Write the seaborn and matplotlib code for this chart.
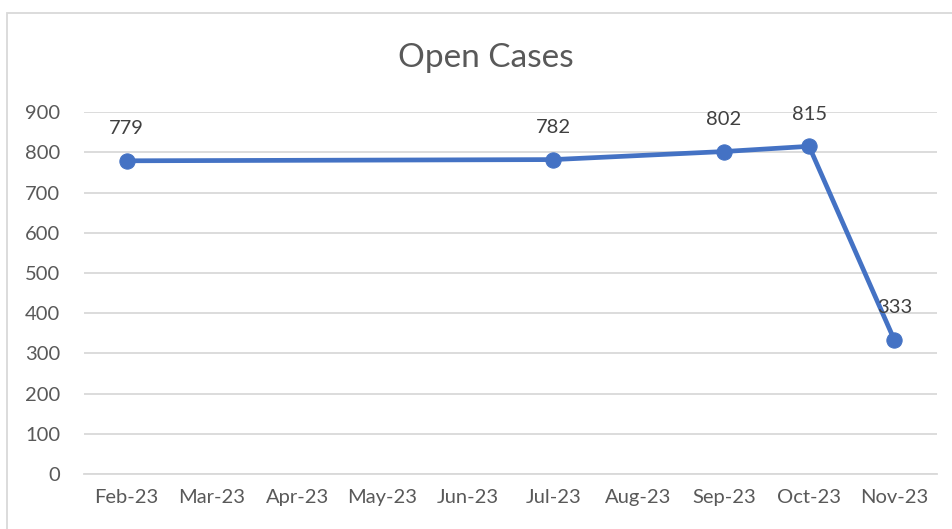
import numpy as np
import pandas as pd
import seaborn as sns
import matplotlib.pyplot as plt
from matplotlib.patches import Rectangle

months = ['Feb-23', 'Mar-23', 'Apr-23', 'May-23', 'Jun-23',
          'Jul-23', 'Aug-23', 'Sep-23', 'Oct-23', 'Nov-23']
case_months = ['Feb-23', 'Jul-23', 'Sep-23', 'Oct-23', 'Nov-23']
open_cases = [779, 782, 802, 815, 333]

df = pd.DataFrame({'month': case_months, 'cases': open_cases})
df['pos'] = [months.index(m) for m in df['month']]

sns.set_theme(style='white')
plt.rcParams['font.family'] = ['Lato', 'DejaVu Sans']

text_col = '#595959'
grid_col = '#D9D9D9'
line_col = '#4472C4'

fig = plt.figure(figsize=(9.52, 5.29), dpi=100)
ax = fig.add_axes([0.0882, 0.104, 0.8961, 0.684])

# chart frame like excel
fig.patches.append(Rectangle((7 / 952, -0.1), 1.1, (529 - 13) / 529 + 0.1,
                             transform=fig.transFigure, fill=False,
                             edgecolor=grid_col, linewidth=1.3))

sns.lineplot(data=df, x='pos', y='cases', ax=ax, color=line_col,
             linewidth=3.4, marker='o', markersize=11,
             markeredgecolor=line_col, zorder=3)

for x, y in zip(df['pos'], df['cases']):
    ax.annotate(str(y), (x, y), xytext=(0, 17), textcoords='offset points',
                ha='center', va='bottom', fontsize=14.5, color='#404040')

ax.set_xlim(-0.5, len(months) - 0.5)
ax.set_ylim(0, 900)
ax.set_yticks(range(0, 1000, 100))
ax.set_xticks(range(len(months)))
ax.set_xticklabels(months)
ax.set_xticks(np.arange(-0.5, len(months)), minor=True)
ax.grid(axis='y', color=grid_col, linewidth=1.3)
ax.set_axisbelow(True)
ax.tick_params(axis='x', which='major', length=0, pad=11, labelsize=14.5, labelcolor=text_col)
ax.tick_params(axis='x', which='minor', length=7, width=1.3, color=grid_col, direction='out')
ax.tick_params(axis='y', length=0, pad=17, labelsize=14.5, labelcolor=text_col)
for s in ['top', 'right', 'left']:
    ax.spines[s].set_visible(False)
ax.spines['bottom'].set_color(grid_col)
ax.spines['bottom'].set_linewidth(1.3)
ax.set_xlabel('')
ax.set_ylabel('')

fig.text(486 / 952, 1 - 58 / 529, 'Open Cases', ha='center', va='center',
         fontsize=24, color=text_col)

fig.savefig('out.png', dpi=100)
